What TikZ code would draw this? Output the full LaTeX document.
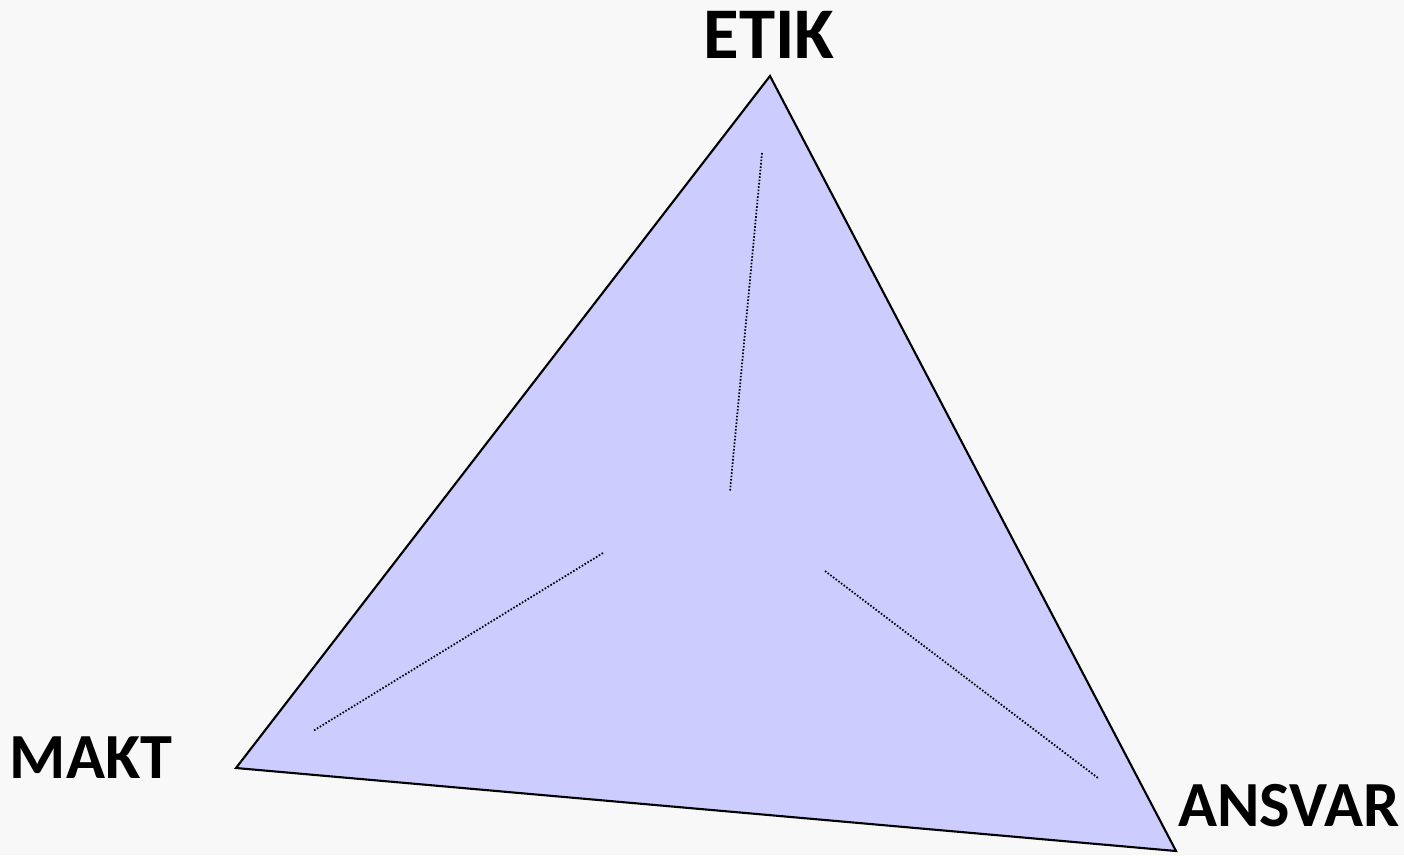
\documentclass[tikz,border=0pt]{standalone}
\usepackage{fontspec}
\setmainfont{Carlito}
\definecolor{bgcol}{HTML}{F8F8F8}
\definecolor{trifill}{HTML}{CCCCFF}
\tikzset{
  corner/.style={font=\bfseries\fontsize{18.3}{22}\selectfont, inner sep=0pt},
  guide/.style={line width=0.5pt, dash pattern=on 0.45pt off 0.5pt}
}
\begin{document}
\begin{tikzpicture}[x=0.01cm,y=-0.01cm]
        \fill[bgcol] (0,0) rectangle (1404,855);
        \useasboundingbox (0,0) rectangle (1404,855);
        \coordinate (top) at (770,76);
        \coordinate (left) at (236,768);
        \coordinate (right) at (1176,851);
        \filldraw[fill=trifill, draw=black, line width=0.6pt, line join=miter] (top) -- (left) -- (right) -- cycle;
        \coordinate (g1a) at (762,153);
        \coordinate (g1b) at (730,491);
        \coordinate (g2a) at (603,553);
        \coordinate (g2b) at (313,731);
        \coordinate (g3a) at (825,571);
        \coordinate (g3b) at (1098,778);
        \draw[guide] (g1a) -- (g1b);
        \draw[guide] (g2a) -- (g2b);
        \draw[guide] (g3a) -- (g3b);
        \node[corner, font=\bfseries\fontsize{20.7}{24}\selectfont] (etik) at (769,35) {ETIK};
        \node[corner] (makt) at (91,758) {MAKT};
        \node[corner] (ansvar) at (1289,806) {ANSVAR};
    \end{tikzpicture}
\end{document}
